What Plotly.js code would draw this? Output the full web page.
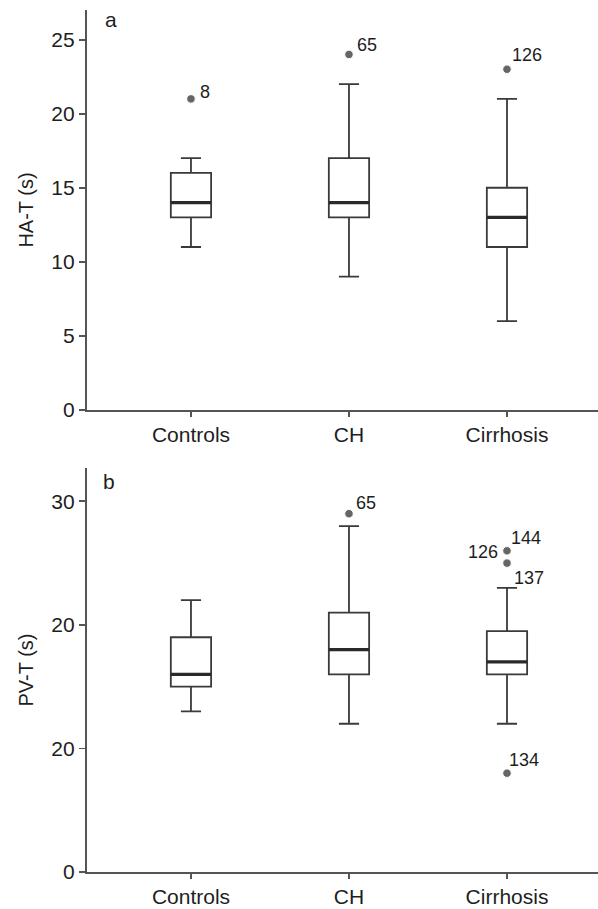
<!DOCTYPE html>
<html>
<head>
<meta charset="utf-8">
<script src="https://cdn.plot.ly/plotly-3.0.1.min.js"></script>
<style>html,body{margin:0;padding:0;background:#fff;}#chart{width:598px;height:909px;}</style>
</head>
<body>
<div id="chart"></div>
<script>
// ---- data ----
const categories = ["Controls", "CH", "Cirrhosis"];

// Panel a: HA-T (s)
const haLower  = [11, 9, 6];
const haQ1     = [13, 13, 11];
const haMedian = [14, 14, 13];
const haQ3     = [16, 17, 15];
const haUpper  = [17, 22, 21];
const haOutCat   = [0, 1, 2];
const haOutVal   = [21, 24, 23];
const haOutLabel = ["8", "65", "126"];

// Panel b: PV-T (s)
const pvLower  = [13, 12, 12];
const pvQ1     = [15, 16, 16];
const pvMedian = [16, 18, 17];
const pvQ3     = [19, 21, 19.5];
const pvUpper  = [22, 28, 23];
const pvOutCat   = [1, 2, 2, 2, 2];
const pvOutVal   = [29, 26, 25, 23, 8];
const pvOutLabel = ["65", "144", "126", "137", "134"];

const haTickVals = [0, 5, 10, 15, 20, 25];
const haTickText = ["0", "5", "10", "15", "20", "25"];
const pvTickVals = [0, 10, 20, 30];
const pvTickText = ["0", "20", "20", "30"];

// ---- styles ----
const BOXW = 0.255;
const LINE = "#3a3a3a";
const TXT = "#1e1e1e";
const FONT = "Liberation Sans, Arial, sans-serif";
// label offsets in px (style only)
const haLabStyle = [
  {anchor: "left", dx: 7, dy: 7},
  {anchor: "left", dx: 6, dy: 9},
  {anchor: "left", dx: 3, dy: 14}
];
const pvLabStyle = [
  {anchor: "left", dx: 5, dy: 11},
  {anchor: "left", dx: 2, dy: 13},
  {anchor: "right", dx: -7, dy: 11},
  {anchor: "left", dx: 5, dy: 10},
  {anchor: "left", dx: 0, dy: 13}
];

const idx = categories.map((_, i) => i);

function boxTrace(lo, q1, med, q3, hi, xa, ya) {
  return {
    type: "box", x: idx, lowerfence: lo, q1: q1, median: med, q3: q3, upperfence: hi,
    xaxis: xa, yaxis: ya, width: BOXW, whiskerwidth: 0.5, boxpoints: false,
    fillcolor: "#fff", line: {color: LINE, width: 1.8}, showlegend: false, hoverinfo: "skip"
  };
}
function medianTrace(med, xa, ya) {
  const xs = [], ys = [];
  med.forEach((m, i) => { xs.push(i - BOXW / 2, i + BOXW / 2, null); ys.push(m, m, null); });
  return {type: "scatter", mode: "lines", x: xs, y: ys, xaxis: xa, yaxis: ya,
    line: {color: "#2a2a2a", width: 3.2}, showlegend: false, hoverinfo: "skip"};
}
function outlierTrace(cat, val, upper, xa, ya) {
  return {
    type: "scatter", mode: "markers", x: cat, y: val,
    marker: {color: "#262626", size: val.map((v, i) => v === upper[cat[i]] ? 0 : 8.5)},
    xaxis: xa, yaxis: ya, showlegend: false, hoverinfo: "skip", cliponaxis: false
  };
}
function outlierLabels(cat, val, lab, sty, xa, ya) {
  return cat.map((c, i) => ({
    text: lab[i], x: c, y: val[i], xref: xa, yref: ya, showarrow: false,
    xanchor: sty[i].anchor, yanchor: "middle", xshift: sty[i].dx, yshift: sty[i].dy,
    font: {family: FONT, size: 18, color: TXT}
  }));
}

const data = [
  boxTrace(haLower, haQ1, haMedian, haQ3, haUpper, "x", "y"),
  medianTrace(haMedian, "x", "y"),
  outlierTrace(haOutCat, haOutVal, haUpper, "x", "y"),
  boxTrace(pvLower, pvQ1, pvMedian, pvQ3, pvUpper, "x2", "y2"),
  medianTrace(pvMedian, "x2", "y2"),
  outlierTrace(pvOutCat, pvOutVal, pvUpper, "x2", "y2")
];

const xCommon = {
  range: [-0.658, 2.576], tickvals: idx, ticktext: categories,
  showline: true, linecolor: "#555", linewidth: 2.2, ticks: "outside", ticklen: 5,
  tickcolor: "#555", tickwidth: 1.5, showgrid: false, zeroline: false,
  tickfont: {family: FONT, size: 21, color: TXT}
};
const yCommon = {
  showline: true, linecolor: "#555", linewidth: 2.2, ticks: "outside", ticklen: 6,
  tickcolor: "#555", tickwidth: 1.8, showgrid: false, zeroline: false,
  tickfont: {family: FONT, size: 21, color: TXT}
};

const layout = {
  width: 598, height: 909,
  margin: {l: 87, r: 0, t: 10, b: 37},
  paper_bgcolor: "#fff", plot_bgcolor: "#fff",
  showlegend: false,
  xaxis: Object.assign({}, xCommon, {anchor: "y", domain: [0, 1]}),
  yaxis: Object.assign({}, yCommon, {anchor: "x", domain: [0.536, 1], range: [0, 27],
    tickvals: haTickVals, ticktext: haTickText,
    title: {text: "HA-T (s)", font: {family: FONT, size: 20, color: TXT}, standoff: 12}}),
  xaxis2: Object.assign({}, xCommon, {anchor: "y2", domain: [0, 1]}),
  yaxis2: Object.assign({}, yCommon, {anchor: "x2", domain: [0, 0.4687], range: [0, 32.7],
    tickvals: pvTickVals, ticktext: pvTickText,
    title: {text: "PV-T (s)", font: {family: FONT, size: 20, color: TXT}, standoff: 12}}),
  annotations: [
    {text: "a", xref: "x domain", yref: "y domain", x: 0.031, y: 0.977, xanchor: "left", yanchor: "middle",
     showarrow: false, font: {family: FONT, size: 21, color: TXT}},
    {text: "b", xref: "x2 domain", yref: "y2 domain", x: 0.027, y: 0.966, xanchor: "left", yanchor: "middle",
     showarrow: false, font: {family: FONT, size: 21, color: TXT}}
  ].concat(
    outlierLabels(haOutCat, haOutVal, haOutLabel, haLabStyle, "x", "y"),
    outlierLabels(pvOutCat, pvOutVal, pvOutLabel, pvLabStyle, "x2", "y2")
  )
};

Plotly.newPlot("chart", data, layout, {displayModeBar: false, staticPlot: true});
</script>
</body>
</html>
